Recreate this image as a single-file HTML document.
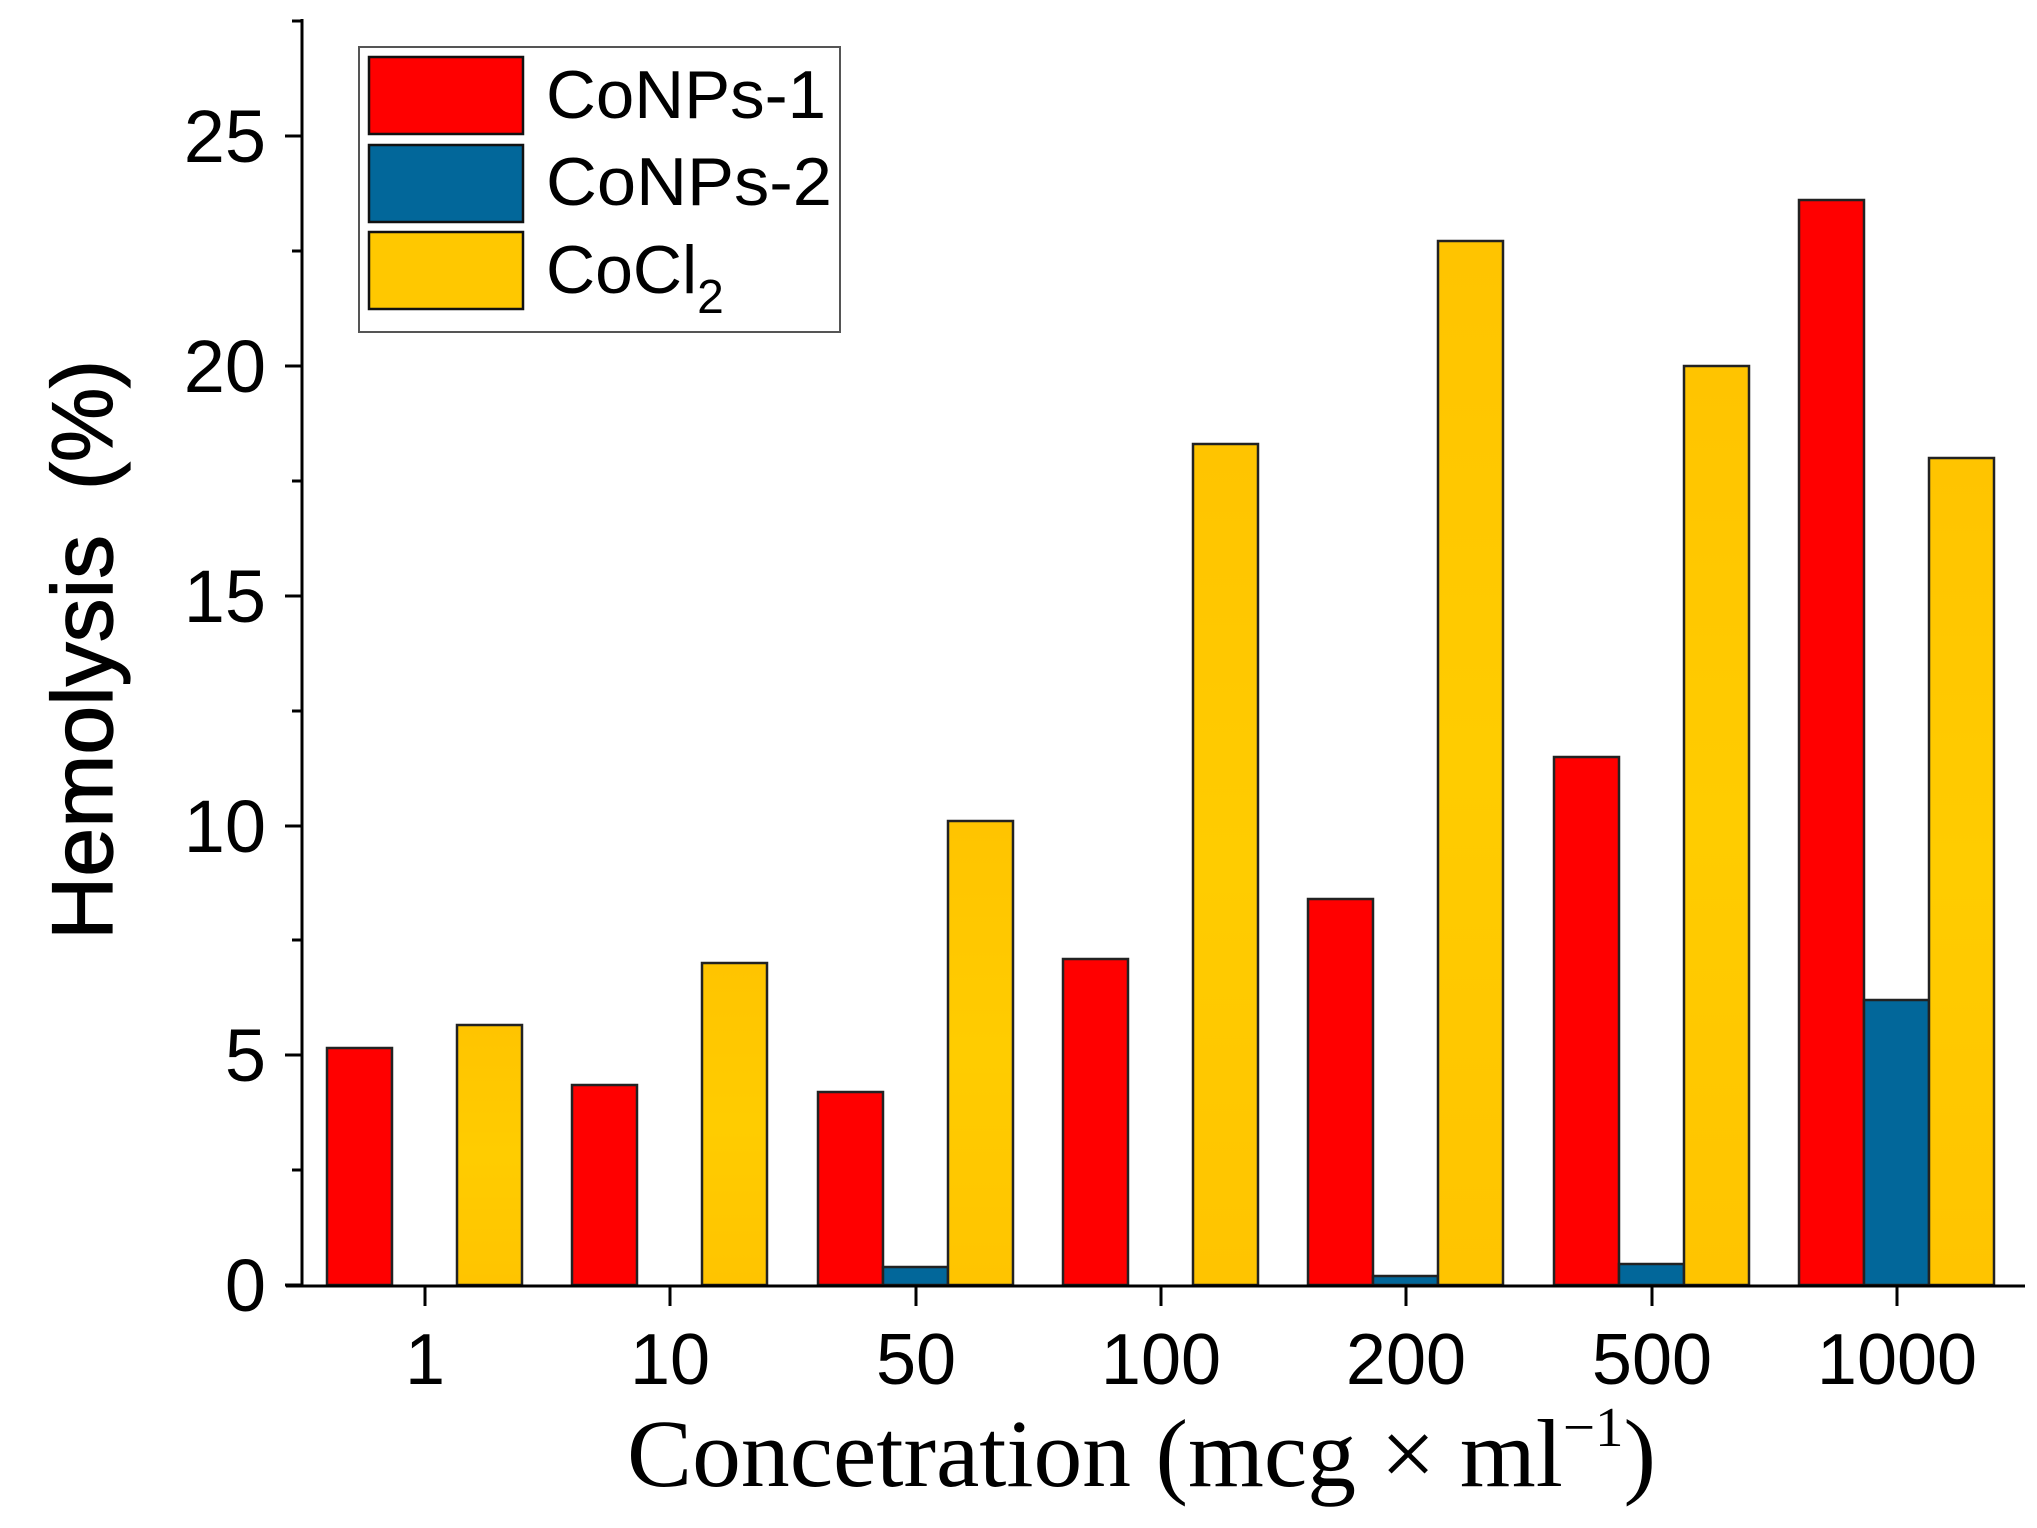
<!DOCTYPE html>
<html><head><meta charset="utf-8"><style>html,body{margin:0;padding:0;background:#fff}svg{display:block}</style></head>
<body>
<svg width="2037" height="1528" viewBox="0 0 2037 1528" xmlns="http://www.w3.org/2000/svg" font-family="Liberation Sans, Arial, sans-serif">
<defs>
<linearGradient id="yg" x1="0" y1="0" x2="0" y2="1">
<stop offset="0" stop-color="#FFC400"/><stop offset="0.5" stop-color="#FFCC00"/><stop offset="1" stop-color="#FFC400"/>
</linearGradient>
</defs>
<g stroke="#222" stroke-width="2.5">
<rect x="327" y="1048" width="65" height="237" fill="#FF0000"/>
<rect x="457" y="1025" width="65" height="260" fill="url(#yg)"/>
<rect x="572" y="1085" width="65" height="200" fill="#FF0000"/>
<rect x="702" y="963" width="65" height="322" fill="url(#yg)"/>
<rect x="818" y="1092" width="65" height="193" fill="#FF0000"/>
<rect x="883" y="1267" width="65" height="18" fill="#02679A"/>
<rect x="948" y="821" width="65" height="464" fill="url(#yg)"/>
<rect x="1063" y="959" width="65" height="326" fill="#FF0000"/>
<rect x="1193" y="444" width="65" height="841" fill="url(#yg)"/>
<rect x="1308" y="899" width="65" height="386" fill="#FF0000"/>
<rect x="1373" y="1276" width="65" height="9" fill="#02679A"/>
<rect x="1438" y="241" width="65" height="1044" fill="url(#yg)"/>
<rect x="1554" y="757" width="65" height="528" fill="#FF0000"/>
<rect x="1619" y="1264" width="65" height="21" fill="#02679A"/>
<rect x="1684" y="366" width="65" height="919" fill="url(#yg)"/>
<rect x="1799" y="200" width="65" height="1085" fill="#FF0000"/>
<rect x="1864" y="1000" width="65" height="285" fill="#02679A"/>
<rect x="1929" y="458" width="65" height="827" fill="url(#yg)"/>
</g>
<g stroke="#000" stroke-width="3" fill="none">
<line x1="302" y1="19" x2="302" y2="1286"/>
<line x1="286" y1="1286" x2="2025" y2="1286"/>
<line x1="285" y1="1285" x2="302" y2="1285"/>
<line x1="285" y1="1055" x2="302" y2="1055"/>
<line x1="285" y1="826" x2="302" y2="826"/>
<line x1="285" y1="596" x2="302" y2="596"/>
<line x1="285" y1="366" x2="302" y2="366"/>
<line x1="285" y1="136" x2="302" y2="136"/>
<line x1="292" y1="1170" x2="302" y2="1170"/>
<line x1="292" y1="940" x2="302" y2="940"/>
<line x1="292" y1="711" x2="302" y2="711"/>
<line x1="292" y1="481" x2="302" y2="481"/>
<line x1="292" y1="251" x2="302" y2="251"/>
<line x1="292" y1="21" x2="302" y2="21"/>
<line x1="425" y1="1286" x2="425" y2="1306"/>
<line x1="670" y1="1286" x2="670" y2="1306"/>
<line x1="916" y1="1286" x2="916" y2="1306"/>
<line x1="1161" y1="1286" x2="1161" y2="1306"/>
<line x1="1406" y1="1286" x2="1406" y2="1306"/>
<line x1="1652" y1="1286" x2="1652" y2="1306"/>
<line x1="1897" y1="1286" x2="1897" y2="1306"/>
</g>
<g font-size="74" fill="#000" text-anchor="end">
<text x="266" y="1311">0</text>
<text x="266" y="1081">5</text>
<text x="266" y="852">10</text>
<text x="266" y="622">15</text>
<text x="266" y="392">20</text>
<text x="266" y="162">25</text>
</g>
<g font-size="72" fill="#000" text-anchor="middle">
<text x="425" y="1384">1</text>
<text x="670" y="1384">10</text>
<text x="916" y="1384">50</text>
<text x="1161" y="1384">100</text>
<text x="1406" y="1384">200</text>
<text x="1652" y="1384">500</text>
<text x="1897" y="1384">1000</text>
</g>
<g transform="translate(112,650) rotate(-90)" font-size="86" stroke="#000" stroke-width="1.2">
<text x="-290" y="0" textLength="405" lengthAdjust="spacingAndGlyphs">Hemolysis</text>
<text x="160" y="0" textLength="130" lengthAdjust="spacingAndGlyphs">(%)</text>
</g>
<text x="627" y="1486" font-family="Liberation Serif, serif" font-size="96" textLength="1029" lengthAdjust="spacingAndGlyphs">Concetration (mcg × ml<tspan dy="-40" font-size="56">−1</tspan><tspan dy="40">)</tspan></text>
<rect x="359" y="47" width="481" height="285" fill="#fff" stroke="#555" stroke-width="2"/>
<g stroke="#111" stroke-width="2.5">
<rect x="369" y="57" width="154" height="77" fill="#FF0000"/>
<rect x="369" y="145" width="154" height="77" fill="#02679A"/>
<rect x="369" y="232" width="154" height="77" fill="#FFC800"/>
</g>
<g font-size="68" fill="#000">
<text x="546" y="118" textLength="280" lengthAdjust="spacingAndGlyphs">CoNPs-1</text>
<text x="546" y="205" textLength="286" lengthAdjust="spacingAndGlyphs">CoNPs-2</text>
<text x="546" y="293">CoCl<tspan dy="20" font-size="48">2</tspan></text>
</g>
</svg>
</body></html>
